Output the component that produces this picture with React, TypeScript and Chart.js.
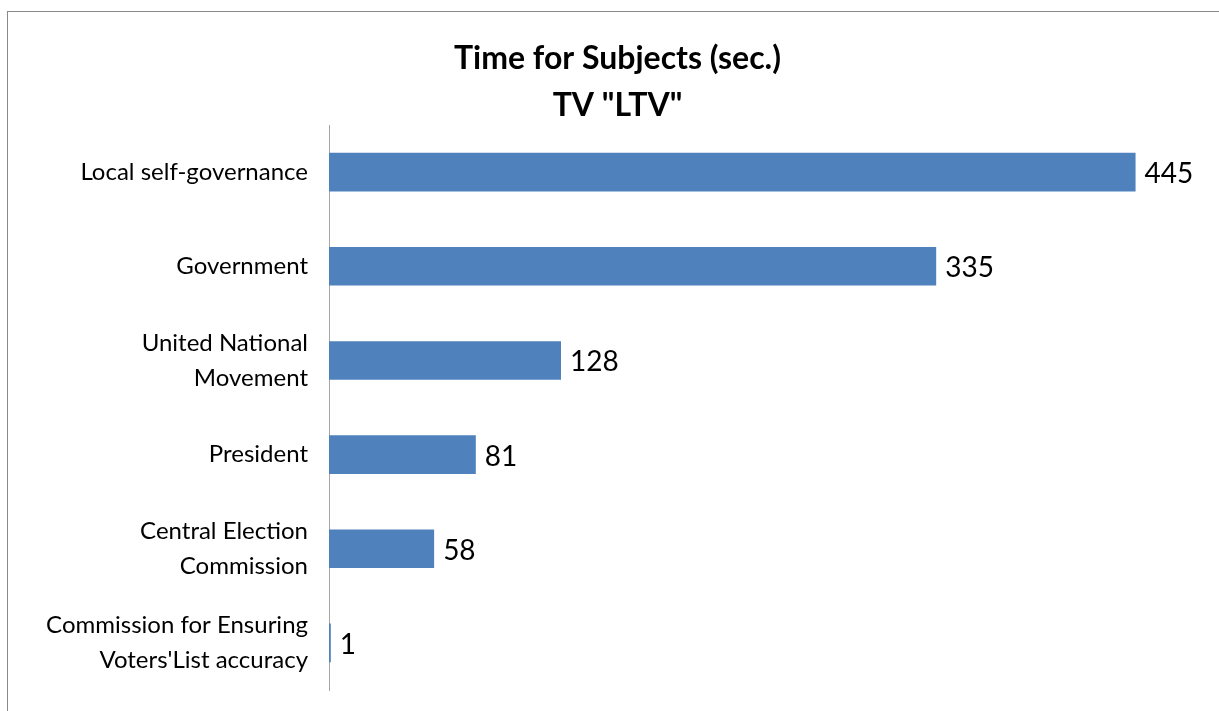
import React, { useEffect, useRef } from "react";
import { Chart, registerables } from "chart.js";

Chart.register(...registerables);

const titleLines: string[] = ["Time for Subjects (sec.)", 'TV "LTV"'];
const categories: (string | string[])[] = [
  "Local self-governance",
  "Government",
  ["United National", "Movement"],
  "President",
  ["Central Election", "Commission"],
  ["Commission for Ensuring", "Voters'List accuracy"],
];
const values: number[] = [445, 335, 128, 81, 58, 1];

const FONT = "Lato, 'Noto Sans', sans-serif";

const framePlugin = {
  id: "frame",
  beforeDraw(chart: any) {
    const ctx = chart.ctx;
    ctx.save();
    ctx.strokeStyle = "#898989";
    ctx.lineWidth = 1;
    ctx.strokeRect(7.5, 11.5, 1400, 900);
    ctx.restore();
  },
};

const valueLabelPlugin = {
  id: "valueLabels",
  afterDatasetsDraw(chart: any) {
    const ctx = chart.ctx;
    const meta = chart.getDatasetMeta(0);
    const data = chart.data.datasets[0].data;
    ctx.save();
    ctx.font = `28px ${FONT}`;
    ctx.fillStyle = "#000000";
    ctx.textAlign = "left";
    ctx.textBaseline = "middle";
    meta.data.forEach((bar: any, i: number) => {
      ctx.fillText(String(data[i]), bar.x + 9, bar.y + 2);
    });
    ctx.restore();
  },
};

export default function App() {
  const ref = useRef<HTMLCanvasElement | null>(null);

  useEffect(() => {
    if (!ref.current) return;
    const chart = new Chart(ref.current, {
      type: "bar",
      data: {
        labels: categories,
        datasets: [
          {
            data: values,
            backgroundColor: "#4F81BD",
            borderWidth: 0,
            barPercentage: 0.41,
            categoryPercentage: 1,
          },
        ],
      },
      options: {
        indexAxis: "y",
        responsive: false,
        animation: false,
        layout: { padding: { left: 36, right: 20, top: 0, bottom: 21 } },
        plugins: {
          legend: { display: false },
          tooltip: { enabled: false },
          title: {
            display: true,
            text: titleLines,
            color: "#000000",
            font: { family: FONT, size: 32, weight: "bold", lineHeight: 1.47 },
            padding: { top: 35, bottom: -4 },
          },
        },
        scales: {
          x: {
            display: false,
            min: 0,
            max: 480,
            grid: { display: false },
          },
          y: {
            grid: { display: false, drawTicks: false, tickLength: 0 },
            border: { display: true, color: "#A6A6A6", width: 1 },
            ticks: {
              color: "#000000",
              padding: 21,
              autoSkip: false,
              font: { family: FONT, size: 24, lineHeight: 1.46 },
            },
            afterFit: (scale: any) => {
              scale.width = 329 - 36;
              scale.paddingTop = 0;
              scale.paddingBottom = 0;
            },
          },
        },
      },
      plugins: [framePlugin, valueLabelPlugin],
    });
    return () => chart.destroy();
  }, []);

  return (
    <div style={{ position: "absolute", left: 0, top: 0, width: 1219, height: 711, overflow: "hidden", background: "#fff" }}>
      <canvas ref={ref} width={1219} height={711} style={{ display: "block" }} />
    </div>
  );
}
